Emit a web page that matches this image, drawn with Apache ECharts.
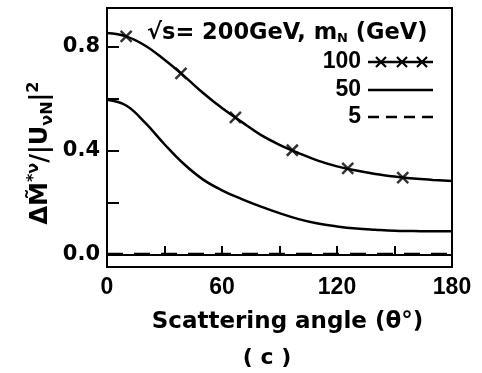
<!DOCTYPE html>
<html>
<head>
<meta charset="utf-8">
<script src="https://cdn.jsdelivr.net/npm/echarts@6/dist/echarts.min.js"></script>
<style>
html,body{margin:0;padding:0;background:#fff;}
#chart{width:482px;height:373px;}
</style>
</head>
<body>
<div id="chart"></div>
<script>
// Data
var angles = [0, 10, 20, 30, 40, 50, 60, 70, 80, 90, 100, 110, 120, 130, 140, 150, 160, 170, 180];
var values100 = [0.854, 0.841, 0.805, 0.751, 0.690, 0.624, 0.565, 0.513, 0.463, 0.424, 0.392, 0.363, 0.341, 0.325, 0.312, 0.302, 0.294, 0.289, 0.285];
var values50 = [0.597, 0.575, 0.508, 0.426, 0.351, 0.291, 0.249, 0.216, 0.187, 0.161, 0.138, 0.121, 0.110, 0.102, 0.097, 0.093, 0.092, 0.091, 0.091];
var markerAngles100 = [10, 38.6, 67, 96.7, 125.6, 154.3];
var markerValues100 = [0.841, 0.699, 0.529, 0.403, 0.333, 0.298];
var angles5 = [0, 180];
var values5 = [0.005, 0.005];
var xTickLabels = [0, 60, 120, 180];
var yTickLabels = [0, 0.4, 0.8];
var yTicks = [0, 0.2, 0.4, 0.6, 0.8];
var legendNames = ['100', '50', '5'];

function pairs(xs, ys) { return xs.map(function (x, i) { return [x, ys[i]]; }); }

var FONT = 'DejaVu Sans';
var NUMFONT = 'Liberation Sans';
var chart = echarts.init(document.getElementById('chart'));
var crossPath = 'path://M0,0L10,10M10,0L0,10';

function cross(cx, cy) {
  return [
    { type: 'line', shape: { x1: cx - 5, y1: cy - 5, x2: cx + 5, y2: cy + 5 }, style: { stroke: '#000', lineWidth: 2.2 } },
    { type: 'line', shape: { x1: cx + 5, y1: cy - 5, x2: cx - 5, y2: cy + 5 }, style: { stroke: '#000', lineWidth: 2.2 } }
  ];
}

function legendText(txt, y) {
  return { type: 'text', x: 361, y: y, style: { text: txt, fontSize: 23, fontFamily: NUMFONT, fontWeight: 'bold', fill: '#000', align: 'right', verticalAlign: 'middle' } };
}

var graphics = [
  { type: 'text', x: 147, y: 33, style: {
      text: '{a|√s= 200GeV, m}{sub|N}{a| (GeV)}', fill: '#000', verticalAlign: 'middle',
      rich: { a: { fontSize: 22.5, fontFamily: FONT, fontWeight: 'bold', fill: '#000' },
              sub: { fontSize: 13, fontFamily: FONT, fontWeight: 'bold', fill: '#000', padding: [12, 0, 0, 0] } }
  } },
  legendText(legendNames[0], 62),
  legendText(legendNames[1], 90),
  legendText(legendNames[2], 117),
  { type: 'line', shape: { x1: 368, y1: 62, x2: 433, y2: 62 }, style: { stroke: '#000', lineWidth: 2.5 } },
  { type: 'line', shape: { x1: 368, y1: 90, x2: 433, y2: 90 }, style: { stroke: '#000', lineWidth: 2.5 } },
  { type: 'line', shape: { x1: 368, y1: 117, x2: 435, y2: 117 }, style: { stroke: '#000', lineWidth: 2.5, lineDash: [11, 7] } },
  { type: 'text', x: 267, y: 358, style: { text: '( c )', fontSize: 22, fontFamily: FONT, fontWeight: 'bold', fill: '#000', align: 'center', verticalAlign: 'middle' } },
  { type: 'text', x: 41, y: 153, rotation: Math.PI / 2, style: {
      text: '{a|ΔM\u0303}{sup|*ν}{a|/|U}{sub|νN}{a||}{sup|2}', align: 'center', verticalAlign: 'middle', fill: '#000',
      rich: {
        a: { fontSize: 24, fontFamily: FONT, fontWeight: 'bold', fill: '#000', lineHeight: 30 },
        sup: { fontSize: 16, fontFamily: FONT, fontWeight: 'bold', fill: '#000', verticalAlign: 'top', lineHeight: 30 },
        sub: { fontSize: 16, fontFamily: FONT, fontWeight: 'bold', fill: '#000', verticalAlign: 'bottom', lineHeight: 30 }
      }
  } }
].concat(cross(381, 62), cross(402, 62), cross(422, 62));

var option = {
  animation: false,
  backgroundColor: '#fff',
  grid: { left: 107, right: 30, top: 8, bottom: 106, show: true, borderColor: '#000', borderWidth: 2, backgroundColor: 'transparent' },
  xAxis: {
    type: 'value', min: 0, max: 180, interval: 30,
    axisLine: { show: true, lineStyle: { color: '#000', width: 2 } },
    axisTick: { show: true, inside: true, length: 9, lineStyle: { color: '#000', width: 2 } },
    axisLabel: { customValues: xTickLabels, color: '#000', fontFamily: NUMFONT, fontWeight: 'bold', fontSize: 23, margin: 9 },
    splitLine: { show: false },
    name: 'Scattering angle (θ°)', nameLocation: 'middle', nameGap: 44,
    nameTextStyle: { color: '#000', fontFamily: FONT, fontWeight: 'bold', fontSize: 23, padding: [0, 0, 0, 16] }
  },
  yAxis: {
    type: 'value', min: -0.046, max: 0.95,
    axisLine: { show: true, lineStyle: { color: '#000', width: 2 } },
    axisTick: { show: true, inside: true, length: 12, customValues: yTicks, lineStyle: { color: '#000', width: 2 } },
    axisLabel: { customValues: yTickLabels, color: '#000', fontFamily: FONT, fontWeight: 'bold', fontSize: 21, margin: 7,
      formatter: function (v) { return v.toFixed(1); } },
    splitLine: { show: false }
  },
  series: [
    { name: '100', type: 'line', data: pairs(angles, values100), smooth: 0.4, showSymbol: false, symbol: 'none',
      lineStyle: { color: '#000', width: 2.5 } },
    { name: '100 markers', type: 'scatter', data: pairs(markerAngles100, markerValues100), symbol: crossPath, symbolSize: 11,
      itemStyle: { color: 'transparent', borderColor: '#000', borderWidth: 2.5 } },
    { name: '50', type: 'line', data: pairs(angles, values50), smooth: 0.4, showSymbol: false, symbol: 'none',
      lineStyle: { color: '#000', width: 2.5 } },
    { name: '5', type: 'line', data: pairs(angles5, values5), showSymbol: false, symbol: 'none',
      lineStyle: { color: '#000', width: 2, type: [16, 11] } }
  ],
  graphic: graphics
};
chart.setOption(option);
</script>
</body>
</html>
